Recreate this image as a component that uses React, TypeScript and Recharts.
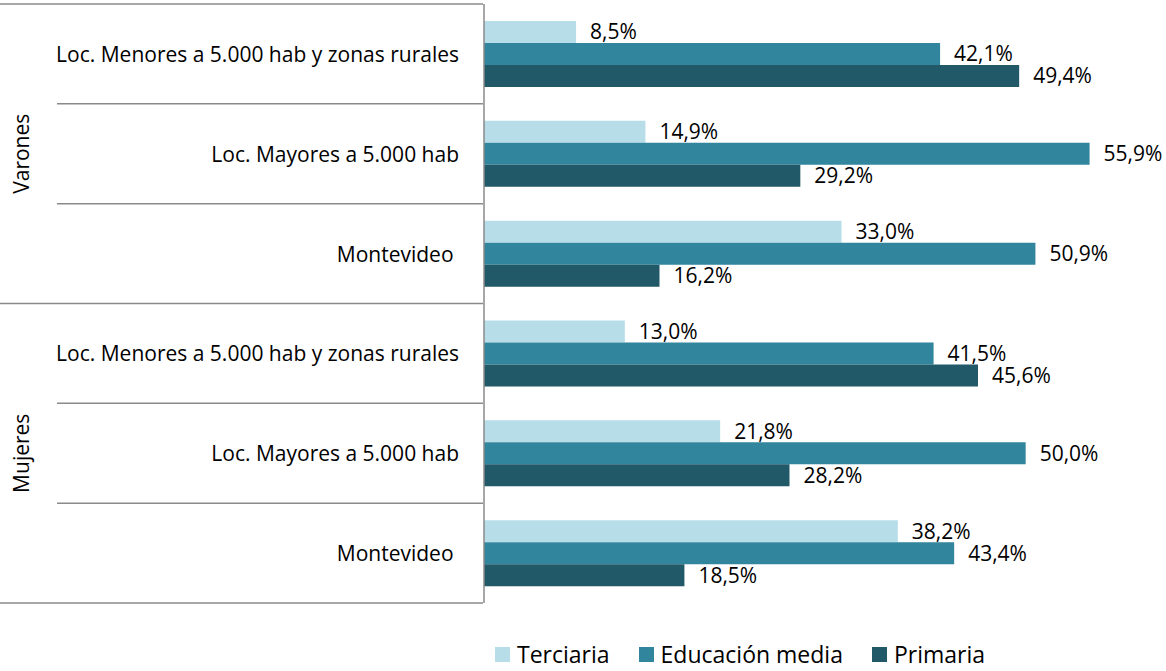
import { BarChart, Bar, XAxis, YAxis, Legend, LabelList } from "recharts";

const groups = ["Varones", "Varones", "Varones", "Mujeres", "Mujeres", "Mujeres"];
const places = [
  "Loc. Menores a 5.000 hab y zonas rurales",
  "Loc. Mayores a 5.000 hab",
  "Montevideo ",
  "Loc. Menores a 5.000 hab y zonas rurales",
  "Loc. Mayores a 5.000 hab",
  "Montevideo ",
];
const terciaria = [8.5, 14.9, 33.0, 13.0, 21.8, 38.2];
const media = [42.1, 55.9, 50.9, 41.5, 50.0, 43.4];
const primaria = [49.4, 29.2, 16.2, 45.6, 28.2, 18.5];

const series = [
  { key: "terciaria", name: "Terciaria", color: "#B7DEE8" },
  { key: "media", name: "Educación media", color: "#31859C" },
  { key: "primaria", name: "Primaria", color: "#215968" },
];

const data = places.map((place, i) => ({
  id: `${groups[i]}-${i}`,
  group: groups[i],
  place,
  terciaria: terciaria[i],
  media: media[i],
  primaria: primaria[i],
}));

const W = 1166;
const H = 671;
const M = { top: 4, right: 32, bottom: 68, left: 0 };
const AXIS_W = 484;
const BAND = (H - M.top - M.bottom) / data.length;
const FONT = "'Open Sans', sans-serif";
const LINE = "#8a8a8a";

const fmt = (v: number) => v.toFixed(1).replace(".", ",") + "%";

function CategoryTick(props: any) {
  const { y, index } = props;
  const row = data[index];
  const lastInGroup = index === data.length - 1 || data[index + 1].group !== row.group;
  const midOfGroup = index % 3 === 1;
  const axisX = AXIS_W - 1;
  return (
    <g>
      {index === 0 && (
        <line x1={0} x2={axisX} y1={y - BAND / 2} y2={y - BAND / 2} stroke={LINE} strokeWidth={1.5} />
      )}
      <line
        x1={lastInGroup ? 0 : 57}
        x2={axisX}
        y1={y + BAND / 2}
        y2={y + BAND / 2}
        stroke={LINE}
        strokeWidth={1.5}
      />
      <text
        x={459}
        y={y}
        textAnchor="end"
        dominantBaseline="central"
        fontFamily={FONT}
        fontSize={21}
        fill="#000"
        style={{ whiteSpace: "pre" }}
      >
        {row.place}
      </text>
      {midOfGroup && (
        <text
          x={21}
          y={y}
          transform={`rotate(-90 21 ${y})`}
          textAnchor="middle"
          dominantBaseline="central"
          fontFamily={FONT}
          fontSize={21}
          fill="#000"
        >
          {row.group}
        </text>
      )}
    </g>
  );
}

function LegendContent() {
  return (
    <div style={{ display: "flex", alignItems: "center", fontFamily: FONT, fontSize: 23, lineHeight: "28px" }}>
      {series.map((s) => (
        <div key={s.key} style={{ display: "flex", alignItems: "center", marginRight: 29 }}>
          <div style={{ width: 15, height: 15, background: s.color, marginRight: 7 }} />
          <span style={{ color: "#000" }}>{s.name}</span>
        </div>
      ))}
    </div>
  );
}

export default function App() {
  return (
    <div style={{ position: "absolute", left: 0, top: 0, width: W, height: H, background: "#fff" }}>
      <BarChart
        width={W}
        height={H}
        data={data}
        layout="vertical"
        margin={M}
        barCategoryGap={17}
        barGap={0}
      >
        <XAxis type="number" domain={[0, 60]} hide />
        <YAxis
          type="category"
          dataKey="id"
          width={AXIS_W}
          axisLine={{ stroke: LINE, strokeWidth: 1.5 }}
          tickLine={false}
          tick={<CategoryTick />}
          interval={0}
        />
        <Legend
          content={<LegendContent />}
          wrapperStyle={{ position: "absolute", left: 495, top: 640, width: "auto", height: 0, overflow: "visible" }}
        />
        {series.map((s) => (
          <Bar key={s.key} dataKey={s.key} name={s.name} fill={s.color} isAnimationActive={false}>
            <LabelList
              dataKey={s.key}
              position="right"
              offset={14}
              formatter={fmt as any}
              fill="#000"
              fontFamily={FONT}
              fontSize={21}
            />
          </Bar>
        ))}
      </BarChart>
    </div>
  );
}
